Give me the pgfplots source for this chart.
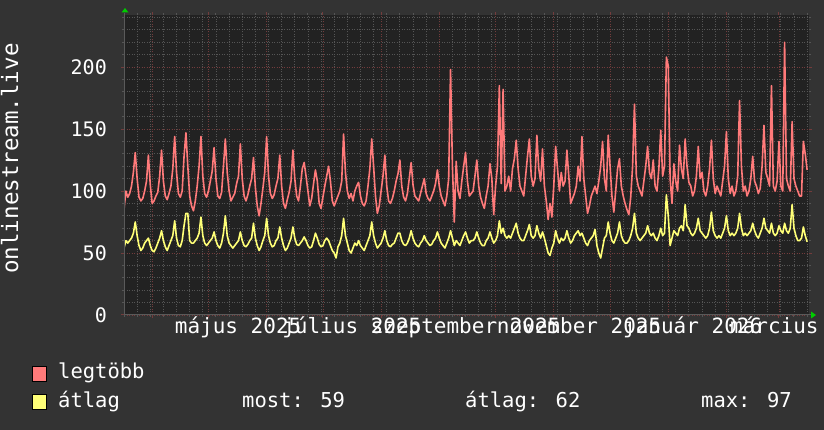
\documentclass[border=0pt]{standalone}
\usepackage{fontspec}
\setmainfont{DejaVu Sans Mono}
\usepackage{pgfplots}
\usepackage{pgfplotstable}
\pgfplotsset{compat=1.18}
\definecolor{bgout}{RGB}{51,51,51}
\definecolor{plotbg}{RGB}{34,34,34}
\definecolor{mingrid}{RGB}{85,85,85}
\definecolor{majgrid}{RGB}{115,60,60}
\definecolor{maxc}{RGB}{255,122,122}
\definecolor{avgc}{RGB}{255,255,119}
\definecolor{arrowc}{RGB}{0,204,0}
\definecolor{axisc}{RGB}{90,90,90}

% daily values: mx = legtöbb, av = átlag (day 0 = 2025-03-17)
\pgfplotstableread[row sep=\\]{
mx av\\
85 54\\ 100 60\\ 95 58\\ 98 60\\ 104 62\\ 115 66\\ 131 75\\
110 64\\ 95 56\\ 92 52\\ 94 54\\ 100 58\\ 108 60\\ 129 62\\
105 56\\ 90 52\\ 92 51\\ 96 54\\ 99 58\\ 112 62\\ 133 68\\
108 60\\ 96 55\\ 93 52\\ 98 56\\ 104 60\\ 118 64\\ 144 76\\
115 62\\ 98 56\\ 95 55\\ 100 60\\ 128 72\\ 147 82\\ 120 82\\
96 60\\ 88 58\\ 84 58\\ 92 60\\ 104 62\\ 120 66\\ 144 79\\
112 64\\ 98 58\\ 95 56\\ 100 58\\ 108 60\\ 116 62\\ 135 67\\
110 60\\ 96 56\\ 94 54\\ 99 58\\ 120 66\\ 142 80\\ 115 64\\
100 58\\ 92 56\\ 95 54\\ 98 56\\ 106 58\\ 112 60\\ 138 67\\
110 60\\ 96 56\\ 92 55\\ 97 57\\ 104 60\\ 110 62\\ 127 74\\
103 62\\ 88 56\\ 80 52\\ 90 55\\ 102 60\\ 115 64\\ 144 78\\
112 64\\ 98 58\\ 94 55\\ 97 56\\ 104 60\\ 110 62\\ 129 71\\
104 62\\ 90 56\\ 86 52\\ 93 54\\ 99 58\\ 108 62\\ 133 71\\
110 62\\ 96 57\\ 92 56\\ 104 58\\ 118 60\\ 123 63\\ 112 60\\
100 56\\ 88 54\\ 94 55\\ 106 60\\ 117 66\\ 108 62\\ 90 57\\
86 55\\ 95 56\\ 104 60\\ 112 62\\ 120 60\\ 108 56\\ 92 52\\
88 50\\ 92 46\\ 96 55\\ 100 58\\ 108 64\\ 146 78\\ 115 64\\
100 58\\ 94 52\\ 98 50\\ 92 54\\ 100 58\\ 104 56\\ 107 60\\
96 56\\ 90 54\\ 88 52\\ 92 56\\ 104 60\\ 118 64\\ 142 75\\
120 64\\ 96 58\\ 82 54\\ 88 56\\ 100 58\\ 112 62\\ 129 68\\
104 60\\ 92 56\\ 90 55\\ 94 57\\ 100 58\\ 108 62\\ 114 66\\
125 66\\ 104 60\\ 95 57\\ 92 56\\ 98 58\\ 110 62\\ 123 68\\
105 62\\ 96 58\\ 94 56\\ 92 55\\ 98 58\\ 104 60\\ 110 64\\
98 60\\ 94 58\\ 92 56\\ 96 57\\ 100 60\\ 106 62\\ 117 67\\
104 62\\ 96 58\\ 92 56\\ 88 54\\ 96 58\\ 110 62\\ 198 68\\
120 62\\ 75 56\\ 124 60\\ 100 58\\ 94 56\\ 108 60\\ 120 64\\
131 67\\ 108 62\\ 96 58\\ 98 60\\ 100 60\\ 112 62\\ 125 67\\
104 62\\ 95 58\\ 90 56\\ 86 56\\ 96 60\\ 104 62\\ 122 67\\
110 62\\ 81 58\\ 104 60\\ 120 64\\ 185 76\\ 106 66\\ 182 70\\
100 64\\ 104 62\\ 112 64\\ 100 62\\ 118 66\\ 126 70\\ 141 74\\
118 66\\ 104 62\\ 100 60\\ 96 60\\ 112 64\\ 128 68\\ 142 73\\
112 64\\ 104 62\\ 110 64\\ 145 72\\ 118 66\\ 108 62\\ 134 67\\
104 62\\ 92 56\\ 77 50\\ 90 48\\ 79 54\\ 104 58\\ 136 68\\
118 62\\ 100 58\\ 115 62\\ 104 60\\ 108 62\\ 133 68\\ 112 62\\
90 58\\ 94 60\\ 98 64\\ 104 66\\ 120 68\\ 108 64\\ 144 66\\
110 62\\ 96 58\\ 82 56\\ 88 60\\ 96 62\\ 100 64\\ 104 69\\
98 56\\ 108 50\\ 120 46\\ 140 54\\ 110 62\\ 100 64\\ 145 75\\
120 66\\ 96 60\\ 83 58\\ 100 62\\ 118 66\\ 126 75\\ 104 64\\
96 60\\ 90 58\\ 85 58\\ 81 60\\ 95 64\\ 120 70\\ 170 82\\
112 66\\ 104 62\\ 100 60\\ 96 62\\ 108 64\\ 120 66\\ 136 72\\
115 66\\ 110 64\\ 125 66\\ 104 62\\ 100 60\\ 118 64\\ 149 70\\
112 64\\ 120 66\\ 208 97\\ 201 80\\ 110 56\\ 90 62\\ 122 68\\
108 66\\ 100 64\\ 137 70\\ 118 72\\ 110 68\\ 142 89\\ 120 72\\
107 70\\ 104 66\\ 96 64\\ 100 66\\ 112 70\\ 136 78\\ 110 68\\
115 66\\ 100 64\\ 96 62\\ 104 64\\ 118 70\\ 141 83\\ 110 68\\
98 64\\ 104 62\\ 100 64\\ 96 62\\ 108 66\\ 120 70\\ 148 80\\
110 68\\ 98 64\\ 104 66\\ 96 64\\ 100 66\\ 112 70\\ 173 82\\
120 70\\ 100 64\\ 104 66\\ 96 64\\ 100 66\\ 110 68\\ 128 74\\
108 68\\ 104 64\\ 98 62\\ 102 66\\ 120 70\\ 153 78\\ 115 70\\
110 68\\ 104 66\\ 185 74\\ 104 66\\ 100 64\\ 108 66\\ 140 72\\
104 68\\ 100 66\\ 220 74\\ 110 68\\ 104 66\\ 100 70\\ 156 89\\
110 70\\ 104 64\\ 100 60\\ 96 60\\ 96 62\\ 140 71\\ 130 64\\
117 59\\
}\datatable

\begin{document}
\begin{tikzpicture}[x=1pt,y=1pt]
\path[use as bounding box, clip] (0,0) rectangle (824,430);
\fill[bgout] (0,0) rectangle (824,430);
\begin{axis}[
  at={(124pt,115pt)}, anchor=south west,
  scale only axis, width=685pt, height=300pt,
  xmin=0, xmax=365, ymin=0, ymax=242,
  axis background/.style={fill=plotbg},
  axis line style={draw=none},
  xtick={15,45,76,106,137,168,198,229,259,290,321,349},
  xticklabels={},
  minor xtick={0,7,...,364},
  ytick={0,50,100,150,200},
  minor ytick={10,20,...,240},
  grid=both,
  major grid style={draw=majgrid, line width=0.8pt, dash pattern=on 1pt off 1.5pt},
  minor grid style={draw=mingrid, line width=0.8pt, dash pattern=on 1pt off 1.5pt},
  tick align=outside,
  major tick length=3pt, minor tick length=2pt,
  major tick style={draw=majgrid, line width=1pt},
  minor tick style={draw=mingrid, line width=1pt},
  /pgf/number format/assume math mode=true,
  yticklabel style={font=\fontsize{20}{20}\selectfont, text=white, anchor=east, inner sep=0pt, xshift=-14pt},
  xticklabel style={font=\fontsize{21}{21}\selectfont, text=white, anchor=base, inner sep=0pt, yshift=-19pt},
  extra x ticks={60.8,121.4,182,242.5,303,363.4},
  extra x tick labels={május 2025,július 2025,szeptember 2025,november 2025,január 2026,március 2026},
  extra x tick style={grid=none, major tick length=0pt},
  clip=true,
]
\addplot[maxc, line width=1.6pt, line join=round] table[x expr=\coordindex, y=mx] {\datatable};
\addplot[avgc, line width=1.6pt, line join=round] table[x expr=\coordindex, y=av] {\datatable};
\end{axis}
\draw[axisc, line width=1pt] (124,115) -- (811,115);
\draw[axisc, line width=1pt] (124,115) -- (124,417);
\fill[arrowc] (811,111.5) -- (816,115) -- (811,118.5) -- cycle;
\fill[arrowc] (121.5,417.5) -- (125,422) -- (128.5,417.5) -- cycle;
\node[rotate=90, anchor=base, inner sep=0pt, text=white, font=\fontsize{22.5}{22.5}\selectfont] at (18,271.5) {onlinestream.live};
\filldraw[fill=maxc, draw=black, line width=0.8pt] (32,48.5) rectangle (46.5,64);
\filldraw[fill=avgc, draw=black, line width=0.8pt] (32,20.5) rectangle (46.5,36);
\begin{scope}[every node/.style={anchor=base west, inner sep=0pt, text=white, font=\fontsize{20.5}{20.5}\selectfont}]
\node at (58,51) {legtöbb};
\node at (58,22.5) {átlag};
\node at (242,22.5) {most: 59};
\node at (465,22.5) {átlag: 62};
\node at (701,22.5) {max: 97};
\end{scope}
\end{tikzpicture}
\end{document}
